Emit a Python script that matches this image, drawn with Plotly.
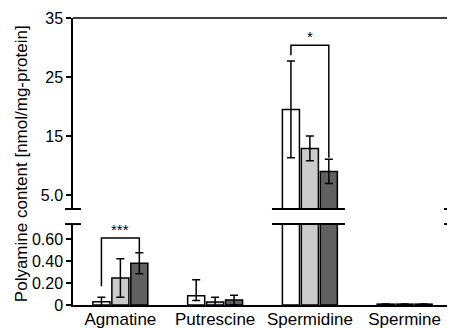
import plotly.graph_objects as go

categories = ["Agmatine", "Putrescine", "Spermidine", "Spermine"]
series_names = ["Control", "Treatment A", "Treatment B"]
vals_white = [0.03, 0.085, 19.5, 0.008]
err_white_plus = [0.04, 0.145, 8.2, 0.0]
err_white_minus = [0.04, 0.045, 8.2, 0.0]
vals_light = [0.245, 0.027, 12.9, 0.008]
err_light = [0.175, 0.043, 2.1, 0.0]
vals_dark = [0.38, 0.045, 9.0, 0.008]
err_dark = [0.095, 0.043, 2.05, 0.0]
colors = ["#ffffff", "#cbcbcb", "#606060"]

upper_ticks = [5, 15, 25, 35]
upper_ticktext = ["5.0", "15", "25", "35"]
lower_ticks = [0, 0.2, 0.4, 0.6]
lower_ticktext = ["0", "0.20", "0.40", "0.60"]

series = [
    (vals_white, err_white_plus, err_white_minus),
    (vals_light, err_light, err_light),
    (vals_dark, err_dark, err_dark),
]

fig = go.Figure()
for xa, ya in (("x", "y"), ("x2", "y2")):
    for i, (v, ep, em) in enumerate(series):
        fig.add_trace(go.Bar(
            x=categories, y=v, name=series_names[i], xaxis=xa, yaxis=ya,
            marker=dict(color=colors[i], line=dict(color="black", width=1.5)),
            error_y=dict(type="data", array=ep, arrayminus=em, symmetric=False,
                         color="black", thickness=1.5, width=4),
            showlegend=False,
        ))

LOW_TOP = 0.282
UP_BOT = 0.3345
FONT = "Liberation Sans, Arial, sans-serif"
TICKFONT = dict(family=FONT, size=16, color="black")

# the page body has an 8px default margin, so the figure is 8px smaller
fig.update_layout(
    template="none",
    width=447, height=320,
    margin=dict(l=65, r=3, t=10, b=23, autoexpand=False),
    paper_bgcolor="white", plot_bgcolor="white",
    barmode="group", bargap=0.4, bargroupgap=0.1,
    font=dict(family=FONT, size=15, color="black"),
    xaxis=dict(domain=[0, 1], anchor="y", showline=True, linecolor="black", linewidth=1.5,
               ticks="", showgrid=False, zeroline=False, automargin=False,
               ticklabelstandoff=-2,
               tickfont=dict(family=FONT, size=17, color="black")),
    xaxis2=dict(domain=[0, 1], anchor="y2", matches="x", showticklabels=False,
                showline=False, ticks="", showgrid=False, zeroline=False, automargin=False),
    yaxis=dict(domain=[0, LOW_TOP], range=[0, 0.736], tickvals=lower_ticks,
               ticktext=lower_ticktext, ticks="outside", ticklen=5, tickwidth=1.5,
               tickcolor="black", showline=True, mirror=True, linecolor="black",
               linewidth=1.5, showgrid=False, zeroline=False, automargin=False,
               tickfont=TICKFONT),
    yaxis2=dict(domain=[UP_BOT, 1], range=[2.63, 35], tickvals=upper_ticks,
                ticktext=upper_ticktext, ticks="outside", ticklen=5, tickwidth=1.5,
                tickcolor="black", showline=True, mirror=True, linecolor="black",
                linewidth=1.5, showgrid=False, zeroline=False, automargin=False,
                tickfont=TICKFONT),
)

shapes = []
# top frame line
shapes.append(dict(type="line", xref="paper", yref="paper", x0=0, x1=1, y0=1, y1=1,
                   line=dict(color="black", width=1.5)))
# break marks
for yb in (LOW_TOP, UP_BOT):
    for xc in (0, 1):
        shapes.append(dict(type="line", xref="paper", yref="paper",
                           x0=xc - 0.021, x1=xc + 0.021, y0=yb, y1=yb,
                           line=dict(color="black", width=2)))
    shapes.append(dict(type="line", xref="x", yref="paper", x0=2 - 0.40, x1=2 + 0.37,
                       y0=yb, y1=yb, line=dict(color="black", width=2)))
# significance brackets
shapes.append(dict(type="path", xref="x", yref="y",
                   path="M -0.2,0.17 L -0.2,0.61 L 0.2,0.61 L 0.2,0.48",
                   line=dict(color="black", width=1.5)))
shapes.append(dict(type="path", xref="x2", yref="y2",
                   path="M 1.8,28.7 L 1.8,30.4 L 2.2,30.4 L 2.2,11.3",
                   line=dict(color="black", width=1.5)))
fig.update_layout(shapes=shapes)

fig.add_annotation(x=0, y=0.61, xref="x", yref="y", text="***", showarrow=False,
                   yanchor="bottom", yshift=-2, font=dict(family=FONT, size=15, color="black"))
fig.add_annotation(x=2, y=30.4, xref="x2", yref="y2", text="*", showarrow=False,
                   yanchor="bottom", yshift=-2, font=dict(family=FONT, size=15, color="black"))
fig.add_annotation(x=-0.137, y=0.491, xref="paper", yref="paper", textangle=-90,
                   xanchor="center", yanchor="middle",
                   text="Polyamine content [nmol/mg-protein]", showarrow=False,
                   font=dict(family=FONT, size=17, color="black"))

fig.write_html("out.html")
